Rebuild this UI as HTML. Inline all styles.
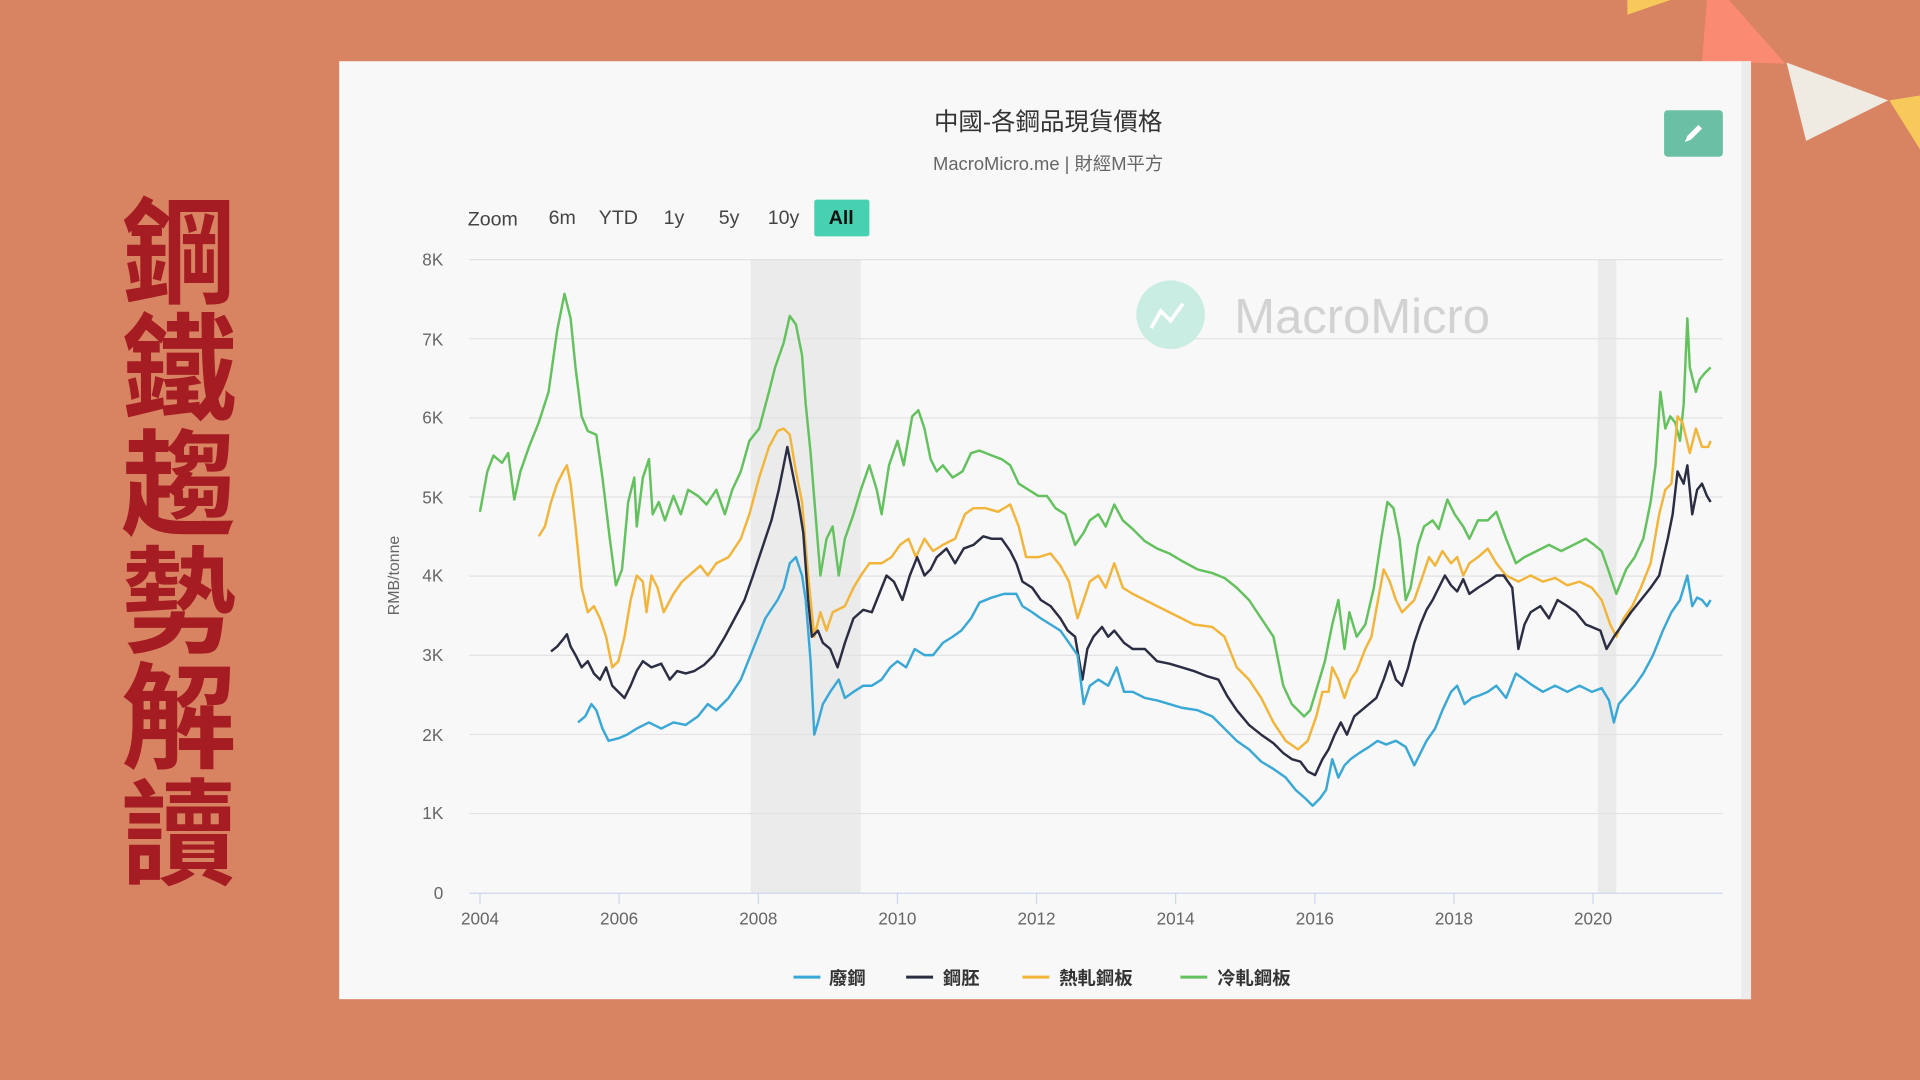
<!DOCTYPE html>
<html><head><meta charset="utf-8"><style>
html,body{margin:0;padding:0;width:1920px;height:1080px;overflow:hidden;background:#d88462}
svg{display:block}
</style></head><body>
<svg width="1920" height="1080" viewBox="0 0 1568 882" xmlns="http://www.w3.org/2000/svg" font-family="Liberation Sans, Noto Sans CJK TC, sans-serif">
<rect width="1568" height="882" fill="#d88462"/>
<polygon points="1329,0 1364,0 1329,12" fill="#f6c95a"/>
<polygon points="1394,0 1412,0 1458,52 1390,50" fill="#fa8a72"/>
<polygon points="1459,51 1542,82 1475,115" fill="#efebe2"/>
<polygon points="1543,82 1568,78 1568,122" fill="#f6c95a"/>
<g fill="#a51c22" font-size="94" font-weight="bold" font-family="Noto Sans CJK TC, sans-serif" text-anchor="middle">
<text x="146" y="240">鋼</text><text x="146" y="335">鐵</text><text x="146" y="430">趨</text><text x="146" y="525">勢</text><text x="146" y="620">解</text><text x="146" y="715">讀</text>
</g>
<rect x="277" y="50" width="1153" height="766" fill="#f8f8f8"/>
<rect x="1422" y="50" width="8" height="766" fill="#ececec"/>
<text x="856" y="106" font-size="20" text-anchor="middle" fill="#333">中國-各鋼品現貨價格</text>
<text x="856" y="139" font-size="15" text-anchor="middle" fill="#666">MacroMicro.me | 財經M平方</text>
<rect x="1359" y="90" width="48" height="38" rx="3" fill="#6bbfa5"/>
<path d="M1376 116 l2 -5 l9 -9 l3 3 l-9 9 z" fill="#fff"/>
<g font-size="16" fill="#444"><text x="382" y="184">Zoom</text><text x="448" y="183">6m</text><text x="489" y="183">YTD</text><text x="542" y="183">1y</text><text x="587" y="183">5y</text><text x="627" y="183">10y</text></g>
<rect x="665" y="163" width="45" height="30" rx="2" fill="#47d1b0"/>
<text x="687" y="183" font-size="16" font-weight="bold" text-anchor="middle" fill="#111">All</text>
<rect x="613" y="212" width="90" height="517" fill="#ebebeb"/>
<rect x="1305" y="212" width="15" height="517" fill="#ebebeb"/>
<g stroke="#e2e2e2" stroke-width="1">
<line x1="383" x2="1407" y1="212" y2="212"/><line x1="383" x2="1407" y1="276.6" y2="276.6"/><line x1="383" x2="1407" y1="341.3" y2="341.3"/><line x1="383" x2="1407" y1="405.9" y2="405.9"/><line x1="383" x2="1407" y1="470.5" y2="470.5"/><line x1="383" x2="1407" y1="535.1" y2="535.1"/><line x1="383" x2="1407" y1="599.8" y2="599.8"/><line x1="383" x2="1407" y1="664.4" y2="664.4"/>
</g>
<line x1="383" x2="1407" y1="729.5" y2="729.5" stroke="#ccd6eb"/>
<g stroke="#ccd6eb"><line x1="392" x2="392" y1="729" y2="738"/><line x1="505.6" x2="505.6" y1="729" y2="738"/><line x1="619.3" x2="619.3" y1="729" y2="738"/><line x1="732.9" x2="732.9" y1="729" y2="738"/><line x1="846.5" x2="846.5" y1="729" y2="738"/><line x1="960.1" x2="960.1" y1="729" y2="738"/><line x1="1073.8" x2="1073.8" y1="729" y2="738"/><line x1="1187.4" x2="1187.4" y1="729" y2="738"/><line x1="1301" x2="1301" y1="729" y2="738"/></g>
<g font-size="14" fill="#666" text-anchor="end"><text x="362" y="217">8K</text><text x="362" y="282">7K</text><text x="362" y="346">6K</text><text x="362" y="411">5K</text><text x="362" y="475">4K</text><text x="362" y="540">3K</text><text x="362" y="605">2K</text><text x="362" y="669">1K</text><text x="362" y="734">0</text></g>
<g font-size="14" fill="#666" text-anchor="middle"><text x="392" y="755">2004</text><text x="505.6" y="755">2006</text><text x="619.3" y="755">2008</text><text x="732.9" y="755">2010</text><text x="846.5" y="755">2012</text><text x="960.1" y="755">2014</text><text x="1073.8" y="755">2016</text><text x="1187.4" y="755">2018</text><text x="1301" y="755">2020</text></g>
<text transform="translate(326,470) rotate(-90)" font-size="13" fill="#666" text-anchor="middle">RMB/tonne</text>
<circle cx="956" cy="257" r="28" fill="#c9ece3"/>
<path d="M940 268 l8 -14 l8 8 l10 -14" stroke="#fff" stroke-width="3" fill="none"/>
<text x="1008" y="272" font-size="40" fill="#d2d2d2">MacroMicro</text>
<g fill="none" stroke-width="2" stroke-linejoin="round">
<polyline stroke="#63c15e" points="392,418 398,385 403,372 410,378 415,370 420,408 425,385 432,365 440,345 448,320 455,270 461,240 466,260 470,300 475,340 480,352 487,355 492,390 498,440 503,478 508,465 513,410 518,390 520,430 525,390 530,375 533,420 538,410 543,425 550,405 556,420 562,400 570,405 577,412 585,400 592,420 598,400 605,385 612,360 620,350 628,320 633,300 640,280 645,258 650,265 655,290 658,330 662,370 666,420 670,470 675,440 680,430 685,470 690,440 697,420 703,400 710,380 716,400 720,420 726,380 733,360 738,380 745,340 750,335 755,350 760,375 765,385 770,380 778,390 786,385 793,370 800,368 810,372 818,375 825,380 832,395 840,400 848,405 855,405 862,415 870,420 878,445 885,435 890,425 897,420 903,430 910,412 917,425 925,432 935,442 945,448 955,452 965,458 978,465 990,468 1000,472 1010,480 1020,490 1030,505 1040,520 1048,560 1055,575 1065,585 1070,580 1076,560 1082,540 1088,510 1093,490 1098,530 1102,500 1108,520 1115,510 1122,480 1128,440 1133,410 1138,415 1143,440 1148,490 1152,480 1158,445 1163,430 1170,425 1175,432 1182,408 1188,420 1195,430 1200,440 1207,425 1215,425 1222,418 1230,440 1238,460 1245,455 1255,450 1265,445 1275,450 1285,445 1295,440 1302,445 1308,450 1315,470 1320,485 1328,465 1335,455 1342,440 1348,410 1352,380 1356,320 1360,350 1364,340 1368,345 1372,360 1375,330 1378,260 1380,300 1385,320 1388,310 1392,305 1397,300"/>
<polyline stroke="#f2b53a" points="440,438 445,430 450,410 455,395 460,385 463,380 466,395 470,430 475,480 480,500 485,495 490,505 495,520 500,545 505,540 510,520 515,490 520,470 525,475 528,500 532,470 537,480 542,500 550,485 557,475 565,468 572,462 578,470 585,460 595,455 605,440 612,420 620,390 628,365 635,352 640,350 645,355 650,385 655,410 660,470 665,520 670,500 675,515 680,500 690,495 697,480 703,470 710,460 720,460 728,455 735,445 742,440 748,455 755,440 762,450 770,445 780,440 788,420 795,415 805,415 815,418 825,412 832,430 838,455 848,455 858,452 866,462 873,475 880,505 885,490 890,475 897,470 903,480 910,460 917,480 925,485 935,490 945,495 955,500 965,505 975,510 990,512 1000,520 1010,545 1020,555 1030,570 1040,590 1050,605 1060,612 1068,605 1075,585 1080,565 1085,565 1088,545 1093,555 1098,570 1103,555 1108,548 1115,530 1120,520 1125,492 1130,465 1135,475 1140,490 1145,500 1150,495 1155,490 1162,470 1167,455 1172,462 1178,450 1185,460 1190,455 1195,470 1200,460 1207,455 1215,448 1222,460 1230,470 1240,475 1250,470 1260,475 1270,472 1280,478 1290,475 1300,480 1308,490 1315,510 1320,520 1326,505 1333,495 1340,480 1348,460 1355,420 1360,400 1365,395 1370,340 1374,345 1380,370 1385,350 1390,365 1395,365 1397,360"/>
<polyline stroke="#2b2d42" points="450,532 455,528 460,522 463,518 466,528 470,535 475,545 480,540 485,550 490,555 495,545 500,560 505,565 510,570 515,560 520,548 525,540 532,545 540,542 547,555 553,548 560,550 567,548 575,543 583,535 592,520 600,505 608,490 615,470 620,455 625,440 630,425 636,400 640,380 643,365 647,385 652,410 656,435 660,490 663,520 668,515 672,525 678,530 684,545 690,525 697,505 705,498 712,500 718,485 724,470 730,475 737,490 743,470 749,455 755,470 760,465 765,455 773,448 780,460 787,448 795,445 803,438 810,440 818,440 825,450 830,460 835,475 843,480 850,490 858,495 866,505 872,515 878,520 884,555 888,530 893,520 900,512 905,520 910,515 918,525 925,530 935,530 945,540 955,542 965,545 975,548 985,552 995,555 1002,568 1010,580 1020,592 1030,600 1040,607 1048,615 1055,620 1062,622 1068,630 1074,633 1080,620 1085,612 1090,600 1095,590 1100,600 1106,585 1112,580 1118,575 1124,570 1130,555 1135,540 1140,555 1145,560 1150,545 1155,525 1160,510 1165,498 1170,490 1175,480 1180,470 1185,478 1190,483 1195,473 1200,485 1207,480 1215,475 1222,470 1228,470 1235,480 1240,530 1245,510 1250,500 1258,495 1265,505 1272,490 1280,495 1287,500 1295,510 1300,512 1307,515 1312,530 1318,520 1325,510 1332,500 1340,490 1348,480 1355,470 1362,440 1366,420 1370,385 1375,395 1378,380 1382,420 1386,400 1390,395 1394,405 1397,410"/>
<polyline stroke="#3aa8d6" points="472,590 478,585 483,575 487,580 492,595 497,605 505,603 512,600 520,595 530,590 540,595 550,590 560,592 570,585 578,575 585,580 595,570 605,555 615,530 625,505 635,490 640,480 645,460 650,455 655,470 658,490 662,540 665,600 668,590 672,575 678,565 685,555 690,570 697,565 705,560 712,560 720,555 727,545 733,540 740,545 747,530 755,535 762,535 770,525 778,520 785,515 793,505 800,492 810,488 820,485 830,485 835,495 843,500 850,505 858,510 866,515 873,525 880,535 885,575 890,560 897,555 905,560 912,545 918,565 925,565 935,570 945,572 955,575 965,578 978,580 990,585 1000,595 1010,605 1020,612 1030,622 1040,628 1050,635 1058,645 1066,652 1072,658 1078,652 1083,645 1088,620 1093,635 1098,625 1103,620 1110,615 1118,610 1125,605 1132,608 1140,605 1148,610 1155,625 1160,615 1165,605 1172,595 1178,580 1185,565 1190,560 1196,575 1202,570 1208,568 1215,565 1222,560 1230,570 1238,550 1245,555 1252,560 1260,565 1270,560 1280,565 1290,560 1300,565 1308,562 1314,572 1318,590 1322,575 1328,568 1335,560 1342,550 1350,535 1358,515 1365,500 1372,490 1378,470 1382,495 1386,488 1390,490 1394,495 1397,490"/>
</g>
<g stroke-width="2.5"><line x1="648" x2="670" y1="798" y2="798" stroke="#3aa8d6"/><line x1="740" x2="762" y1="798" y2="798" stroke="#2b2d42"/><line x1="835" x2="857" y1="798" y2="798" stroke="#f2b53a"/><line x1="964" x2="986" y1="798" y2="798" stroke="#63c15e"/></g>
<g font-size="15" font-weight="bold" fill="#333"><text x="677" y="804">廢鋼</text><text x="770" y="804">鋼胚</text><text x="865" y="804">熱軋鋼板</text><text x="994" y="804">冷軋鋼板</text></g>
</svg>
</body></html>
